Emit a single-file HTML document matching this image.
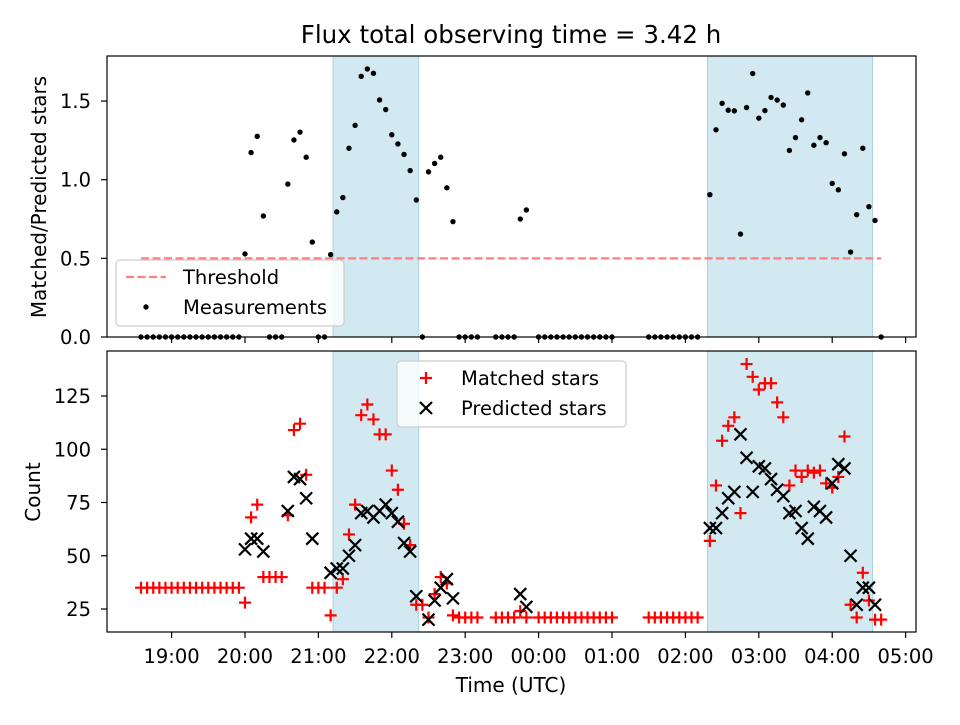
<!DOCTYPE html>
<html><head><meta charset="utf-8">
<style>
html,body{margin:0;padding:0;background:#fff;}
svg text{font-family:"DejaVu Sans","Liberation Sans",sans-serif;fill:#000;}
</style></head>
<body>
<svg id="chart" width="960" height="720" viewBox="0 0 960 720" xmlns="http://www.w3.org/2000/svg">
<rect width="960" height="720" fill="#fff"/>
<text x="511" y="43" font-size="24.5" text-anchor="middle">Flux total observing time = 3.42 h</text>
<g id="top"></g>
<g id="bot"></g>
<text x="511" y="692" font-size="20" text-anchor="middle">Time (UTC)</text>
<text transform="translate(46,197) rotate(-90)" font-size="20" text-anchor="middle">Matched/Predicted stars</text>
<text transform="translate(40,492) rotate(-90)" font-size="20" text-anchor="middle">Count</text>
</svg>
<script>
const times = ["18:35","18:40","18:45","18:50","18:55","19:00","19:05","19:10","19:15","19:20","19:25","19:30","19:35","19:40","19:45","19:50","19:55",
"20:00","20:05","20:10","20:15","20:20","20:25","20:30","20:35","20:40","20:45","20:50","20:55","21:00","21:05","21:10","21:15","21:20","21:25","21:30","21:35","21:40","21:45","21:50","21:55",
"22:00","22:05","22:10","22:15","22:20","22:25","22:30","22:35","22:40","22:45","22:50","22:55","23:00","23:05","23:10","23:25","23:30","23:35","23:40","23:45","23:50",
"00:00","00:05","00:10","00:15","00:20","00:25","00:30","00:35","00:40","00:45","00:50","00:55","01:00",
"01:30","01:35","01:40","01:45","01:50","01:55","02:00","02:05","02:10",
"02:20","02:25","02:30","02:35","02:40","02:45","02:50","02:55","03:00","03:05","03:10","03:15","03:20","03:25","03:30","03:35","03:40","03:45","03:50","03:55","04:00","04:05","04:10","04:15","04:20","04:25","04:30","04:35","04:40"];
const matched = [35,35,35,35,35,35,35,35,35,35,35,35,35,35,35,35,35,
28,68,74,40,40,40,40,69,109,112,88,35,35,35,22,35,39,60,74,116,121,114,107,107,
90,81,65,55,27,27,21,32,40,37,22,21,21,21,21,21,21,21,21,24,21,
21,21,21,21,21,21,21,21,21,21,21,21,21,
21,21,21,21,21,21,21,21,21,
57,83,104,111,115,70,140,134,128,131,131,122,115,83,90,87,90,89,90,84,82,87,106,27,21,42,29,20,20];
const predicted = [null,null,null,null,null,null,null,null,null,null,null,null,null,null,null,null,null,
53,58,58,52,null,null,null,71,87,86,77,58,null,null,42,44,44,50,55,70,71,68,71,74,
70,66,56,52,31,null,20,29,35,39,30,null,null,null,null,null,null,null,null,32,26,
null,null,null,null,null,null,null,null,null,null,null,null,null,
null,null,null,null,null,null,null,null,null,
63,63,70,77,80,107,96,80,92,91,86,81,78,70,71,63,58,73,71,68,84,93,91,50,27,35,35,27,null];
const spanStarts = ["21:12","02:18"];
const spanEnds = ["22:22","04:33"];
const threshold = 0.5;
const xTickLabels = ["19:00","20:00","21:00","22:00","23:00","00:00","01:00","02:00","03:00","04:00","05:00"];
const topYTicks = [0,0.5,1.0,1.5];
const botYTicks = [25,50,75,100,125];

const NS="http://www.w3.org/2000/svg";
function mk(tag,attrs,parent){const e=document.createElementNS(NS,tag);for(const k in attrs)e.setAttribute(k,attrs[k]);parent.appendChild(e);return e;}
function mins(t){let [h,m]=t.split(":").map(Number);if(h<12)h+=24;return (h-18)*60+m;}
const X0=107,X1=916;
function xs(t){return 141+(mins(t)-35)*1.2234;}
const topP={y0:56,y1:337}, botP={y0:351,y1:632};
function yTop(v){return 337-v*157.3;}
function yBot(v){return 609-(v-25)*2.13;}
const ratios = matched.map((m,i)=>predicted[i]?m/predicted[i]:0);

function panel(g,p,yfun,yticks,fmt,showLabels,nm){
  for(let i=0;i<spanStarts.length;i++){
    const a=xs(spanStarts[i]),b=xs(spanEnds[i]);
    const r=mk('rect',{x:a,y:p.y0,width:b-a,height:p.y1-p.y0,fill:'#d3e9f1',stroke:'#a9d3e0','stroke-width':1},g);
    
    
  }
  xTickLabels.forEach(l=>{
    const x=xs(l);
    const tk=mk('line',{x1:x,x2:x,y1:p.y1,y2:p.y1+6,stroke:'#000','stroke-width':1.2},g);
    
    
    if(showLabels){
      const t=mk('text',{x:x,y:p.y1+31,'font-size':19.5,'text-anchor':'middle'},g);t.textContent=l;
      
      
    }
  });
  yticks.forEach(v=>{
    const y=yfun(v);
    const tk=mk('line',{x1:X0-6,x2:X0,y1:y,y2:y,stroke:'#000','stroke-width':1.2},g);
    
    
    const t=mk('text',{x:X0-16,y:y+7,'font-size':19.5,'text-anchor':'end'},g);t.textContent=fmt(v);
    
    
  });
}
const gt=document.getElementById('top'), gb=document.getElementById('bot');
panel(gt,topP,yTop,topYTicks,v=>v.toFixed(1),false,'top');
panel(gb,botP,yBot,botYTicks,v=>String(v),true,'bottom');

const th=mk('line',{x1:xs(times[0]),x2:xs(times[times.length-1]),y1:yTop(threshold),y2:yTop(threshold),stroke:'#ff7f7f','stroke-width':2.2,'stroke-dasharray':'8,3.5'},gt);


times.forEach((t,i)=>{
  const c=mk('circle',{cx:xs(t),cy:yTop(ratios[i]),r:2.7,fill:'#000'},gt);
  
  
});
times.forEach((t,i)=>{
  const x=xs(t),y=yBot(matched[i]);
  const p=mk('path',{d:`M${x-6},${y}H${x+6}M${x},${y-6}V${y+6}`,stroke:'#ff0000','stroke-width':2.2},gb);
  
  
});
times.forEach((t,i)=>{
  if(predicted[i]==null)return;
  const x=xs(t),y=yBot(predicted[i]);
  const p=mk('path',{d:`M${x-6},${y-6}L${x+6},${y+6}M${x-6},${y+6}L${x+6},${y-6}`,stroke:'#000','stroke-width':2.2},gb);
  
  
});
[[gt,topP,'top'],[gb,botP,'bottom']].forEach(([g,p,n])=>{
  const f=mk('rect',{x:X0,y:p.y0,width:X1-X0,height:p.y1-p.y0,fill:'none',stroke:'#000','stroke-width':1.2},g);
  
  
});
function legend(g,x,y,w,h,items,nm){
  const lg=mk('g',{},g);
  
  
  mk('rect',{x:x,y:y,width:w,height:h,rx:4,fill:'#fff','fill-opacity':0.8,stroke:'#ccc','stroke-width':1.2},lg);
  items.forEach((it,k)=>{
    const cy=y+17+k*30;
    const gi=mk('g',{},lg);
    
    
    const mx=x+29;
    if(it.t==='dash')mk('line',{x1:x+10,x2:x+50,y1:cy,y2:cy,stroke:'#ff7f7f','stroke-width':2.2,'stroke-dasharray':'8,3.5'},gi);
    if(it.t==='dot')mk('circle',{cx:x+30,cy:cy,r:2.7,fill:'#000'},gi);
    if(it.t==='plus')mk('path',{d:`M${mx-6},${cy}H${mx+6}M${mx},${cy-6}V${cy+6}`,stroke:'#f00','stroke-width':2.2},gi);
    if(it.t==='x')mk('path',{d:`M${mx-6},${cy-6}L${mx+6},${cy+6}M${mx-6},${cy+6}L${mx+6},${cy-6}`,stroke:'#000','stroke-width':2.2},gi);
    const t=mk('text',{x:x+it.tx,y:cy+7,'font-size':19.5},gi);t.textContent=it.l;
  });
}
legend(gt,116,260,228,66,[{t:'dash',l:'Threshold',tx:67},{t:'dot',l:'Measurements',tx:67}],'top-legend');
legend(gb,397,361,229,66,[{t:'plus',l:'Matched stars',tx:64},{t:'x',l:'Predicted stars',tx:64}],'bottom-legend');
</script>
</body></html>
